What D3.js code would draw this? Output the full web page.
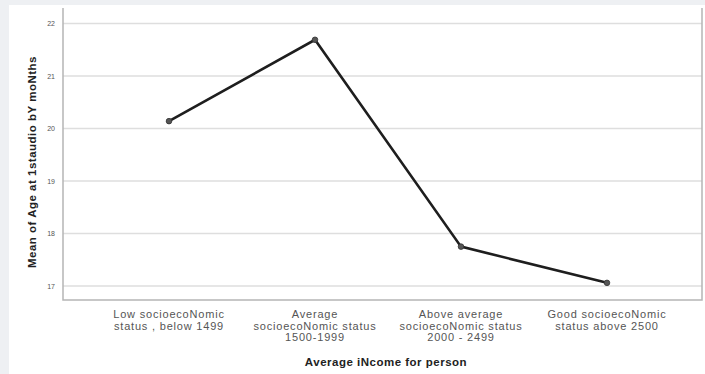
<!DOCTYPE html>
<html><head><meta charset="utf-8">
<script src="https://cdn.jsdelivr.net/npm/d3@7"></script>
<style>body{margin:0;background:#eef0f3;}svg{display:block;}</style>
</head><body>
<svg id="c" width="705" height="374"></svg>
<script>
const categories = [
  ["Low socioecoNomic", "status , below 1499"],
  ["Average", "socioecoNomic status", "1500-1999"],
  ["Above average", "socioecoNomic status", "2000 - 2499"],
  ["Good socioecoNomic", "status above 2500"]
];
const values = [20.14, 21.69, 17.75, 17.06];
const yTicks = [17, 18, 19, 20, 21, 22];
const yTitle = "Mean of Age at 1staudio bY moNths";
const xTitle = "Average iNcome for person";

(function () {
const svg = d3.select("#c");
const ff = "Liberation Sans, Arial, sans-serif";
svg.append("rect").attr("x", 9).attr("y", 5).attr("width", 696).attr("height", 369).attr("fill", "#fff");

const pl = 63, pr = 702, pt = 8, pb = 300;
const keys = categories.map((c, i) => i);
const x = d3.scaleBand().domain(keys).range([96, 680]);
const y = d3.scaleLinear().domain([17, 22]).range([286, 23.5]);
const cx = i => x(i) + x.bandwidth() / 2;

svg.append("g").selectAll("line").data(yTicks).join("line")
  .attr("x1", pl).attr("x2", pr)
  .attr("y1", d => y(d)).attr("y2", d => y(d))
  .attr("stroke", "#dedede").attr("stroke-width", 1.5);

svg.append("path")
  .attr("d", `M${pl},${pt}V${pb}H${pr}V${pt}`)
  .attr("fill", "none").attr("stroke", "#b5b5b5").attr("stroke-width", 1.5);

const ya = svg.append("g").attr("transform", `translate(${pl},0)`)
  .call(d3.axisLeft(y).tickValues(yTicks).tickSize(0).tickPadding(8).tickFormat(d3.format("d")));
ya.select(".domain").remove();
ya.selectAll("text").attr("font-family", ff).attr("font-size", 7).attr("fill", "#555");

const xa = svg.append("g");
categories.forEach((lines, i) => {
  const t = xa.append("text").attr("text-anchor", "middle")
    .attr("font-family", ff).attr("font-size", 11).attr("letter-spacing", 0.8).attr("fill", "#555");
  lines.forEach((l, j) => t.append("tspan").attr("x", cx(i)).attr("y", 318 + j * 11.5).text(l));
});

svg.append("text").attr("x", 386).attr("y", 366).attr("text-anchor", "middle")
  .attr("font-family", ff).attr("font-size", 11.5).attr("font-weight", "bold").attr("letter-spacing", 0.5).attr("fill", "#222").text(xTitle);
svg.append("text").attr("transform", "translate(36,162) rotate(-90)").attr("text-anchor", "middle")
  .attr("font-family", ff).attr("font-size", 11.5).attr("font-weight", "bold").attr("letter-spacing", 0.5).attr("fill", "#222").text(yTitle);

svg.append("path").datum(values)
  .attr("d", d3.line().x((d, i) => cx(i)).y(d => y(d)))
  .attr("fill", "none").attr("stroke", "#1e1e1e").attr("stroke-width", 2.6).attr("stroke-linejoin", "miter");
svg.append("g").selectAll("circle").data(values).join("circle")
  .attr("cx", (d, i) => cx(i)).attr("cy", d => y(d)).attr("r", 2.8)
  .attr("fill", "#555").attr("stroke", "#333").attr("stroke-width", 0.8);
})();
</script>
</body></html>
